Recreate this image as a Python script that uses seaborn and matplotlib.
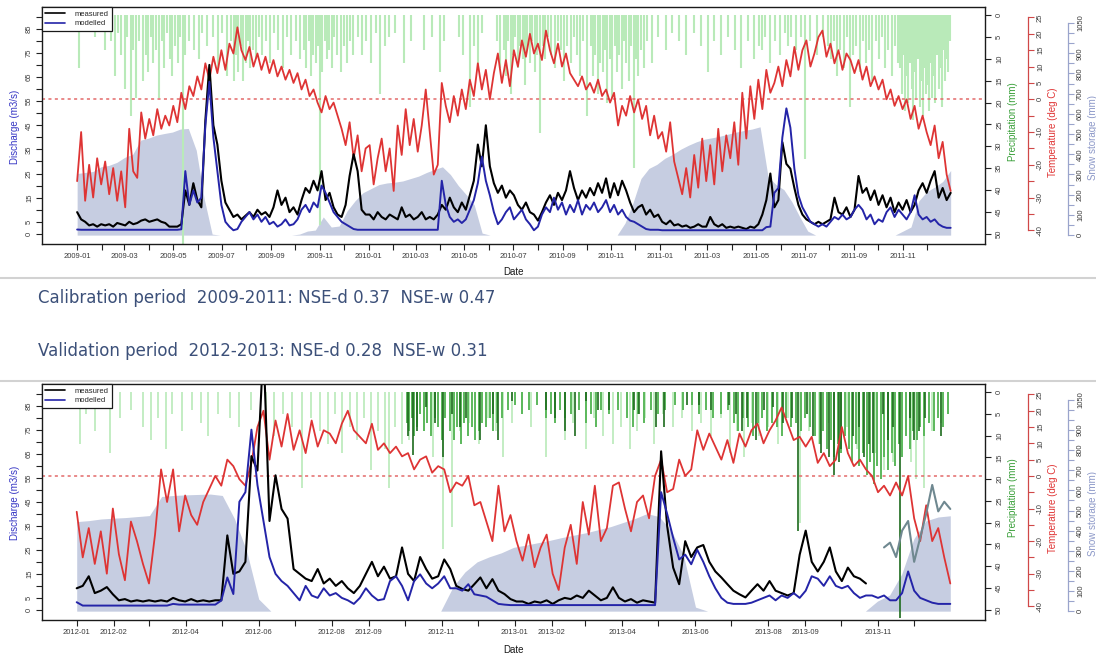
import matplotlib
matplotlib.use("Agg")
import matplotlib.pyplot as plt
from matplotlib.lines import Line2D
import numpy as np
import pandas as pd
import seaborn as sns

sns.set_theme(style="white")
plt.rcParams["font.family"] = ["Liberation Sans", "DejaVu Sans"]

# ---------------- colours ----------------
C_MEAS = "black"
C_MOD = "#2424a8"
C_TEMP = "#de3434"
C_SNOW = "#c6cde1"
C_P_LIGHT = "#b9eab9"
C_P_MID = "#5cb85c"
C_P_DARK = "#1d6b1d"
C_LATE = "#6f8890"
C_TICK = "#3a3a3a"

# =============== Calibration period 2009-2011 ===============
# temperature (deg C), one value every 5 days, grouped per year
temp_2009 = [-25, -10, -31, -20, -30, -18, -26,
             -19, -29, -21, -31, -22,
             -33, -9, -22, -24, -4, -12,
             -6, -11, -3, -9, -5, -8,
             -2, -7, 2, -3, 4, 1,
             7, 3, 11, 6, 13, 8,
             15, 9, 17, 14, 22, 15,
             12, 16, 10, 14, 9, 13,
             8, 12, 7, 10, 6, 9,
             5, 8, 3, 6, 1, 3,
             -1, -4, 1, -3, -1, -5,
             -9, -14, -7, -18, -11, -22, -15]
temp_2010 = [-14, -26, -18, -12, -22, -15, -28,
             -8, -17, -3, -14, -6,
             -16, -8, 3, -10, -23, -20,
             5, -2, -7, 1, -5, 3,
             -3, 6, 1, 11, 3, 9,
             0, 8, 14, 5, 12, 4,
             15, 10, 18, 13, 20, 14,
             17, 12, 21, 15, 11, 17,
             10, 14, 8, 6, 4, 7,
             3, 5, 2, 6, 1, 3,
             -1, 2, -8, -2, -5, 1,
             -4, 0, -6, -2, -11, -5, -12]
temp_2011 = [-10, -16, -7, -19, -24, -29, -21,
             -30, -17, -27, -12, -25,
             -14, -26, -9, -22, -11, -18,
             -7, -20, 2, -12, 4, -6,
             6, -3, 9, 2, 5, 10,
             4, 12, 7, 16, 9, 15,
             18, 10, 14, 19, 21, 13,
             17, 11, 15, 9, 14, 12,
             8, 12, 6, 10, 4, 7,
             3, 6, 0, 3, -2, 1,
             -3, 0, -6, -2, -9, -5,
             -10, -14, -8, -18, -13, -23, -28]

# measured discharge (m3/s), every 5 days
meas_2009 = [9, 6, 5, 3.5, 4, 3, 4,
             3.5, 4, 3, 4.5, 4,
             3.5, 5, 4, 4.5, 5.5, 6,
             5, 5.5, 6, 5, 4.5, 3,
             3, 3, 4, 18, 12, 21,
             14, 11, 47, 70, 45, 37,
             22, 13, 10, 7, 8, 6,
             7.5, 9, 7, 10, 8, 9,
             7, 11, 18, 12, 15, 9,
             11, 8, 14, 19, 17, 22,
             18, 26, 14, 17, 11, 8,
             7, 12, 24, 33, 26, 10, 8]
meas_2010 = [8, 6, 9, 7, 6, 8, 7,
             6, 11, 7, 8, 6,
             7, 9, 6, 7, 6, 8,
             12, 10, 15, 11, 9, 13,
             10, 16, 22, 37, 28, 45,
             28, 21, 17, 20, 15, 18,
             16, 12, 10, 13, 9, 8,
             5.5, 9, 13, 16, 12, 17,
             14, 18, 26, 19, 14, 18,
             15, 19, 16, 21, 17, 23,
             15, 21, 16, 22, 18, 13,
             9, 11, 12, 8, 10, 7, 8]
meas_2011 = [5, 4, 5.5, 3.5, 4, 3, 3.5,
             2.5, 3, 4, 3, 3,
             7, 4, 3, 4, 2.5, 3,
             2.5, 3, 2.5, 2, 3, 2.5,
             4, 8, 14, 25, 11, 14,
             38, 29, 27, 19, 12, 8,
             6, 5, 4, 5, 4, 5,
             6, 15, 9, 8, 11, 7,
             10, 24, 17, 19, 14, 18,
             12, 16, 11, 15, 9, 13,
             10, 14, 9, 12, 18, 21,
             17, 22, 26, 15, 19, 14, 17]

# modelled discharge (m3/s), every 5 days
mod_2009 = [1.8, 1.7, 1.7, 1.7, 1.7, 1.7, 1.7,
            1.7, 1.7, 1.7, 1.7, 1.7,
            1.7, 1.7, 1.7, 1.7, 1.7, 1.7,
            1.7, 1.7, 1.7, 1.7, 1.7, 1.7,
            1.7, 1.7, 1.9, 26, 12, 18,
            13, 15, 45, 63, 40, 26,
            12, 5, 3, 1.5, 2, 5,
            7, 9, 6, 8, 5, 7,
            4, 5, 3, 4, 6, 3.5,
            4, 6, 10, 12, 9, 13,
            11, 20, 17, 13, 9, 7,
            5, 4, 3, 2, 1.7, 1.7, 1.7]
mod_2010 = [1.7, 1.7, 1.7, 1.7, 1.7, 1.7, 1.7,
            1.7, 1.7, 1.7, 1.7, 1.7,
            1.7, 1.7, 1.7, 1.7, 1.7, 1.7,
            22, 12, 7, 5, 6, 4.5,
            6, 10, 14, 21, 32, 22,
            16, 9, 4, 6, 9, 11,
            6, 8, 10, 6, 4, 1.5,
            3, 8, 11, 9, 15, 10,
            13, 8, 12, 9, 14, 8,
            12, 10, 13, 9, 11, 14,
            9, 12, 8, 10, 7, 5.5,
            5, 4, 3, 2, 1.7, 1.7, 1.7]
mod_2011 = [1.5, 1.5, 1.5, 1.5, 1.5, 1.5, 1.5,
            1.5, 1.5, 1.5, 1.5, 1.5,
            1.5, 1.5, 1.5, 1.5, 1.5, 1.5,
            1.5, 1.5, 1.5, 1.5, 1.5, 1.5,
            1.5, 1.5, 2.8, 3, 17, 19,
            40, 52, 44, 27, 16, 11,
            8, 5, 4, 3, 4, 3,
            5, 7, 6, 8, 6, 7,
            10, 12, 10, 6, 8, 4,
            6, 5, 9, 11, 7, 10,
            8, 6, 9, 16, 8, 6,
            7, 5, 6, 4, 3, 2.5, 2.5]

# snow storage (mm), every 10 days
snow_2009 = [305, 310, 315, 338, 345, 360, 385, 400, 470, 480, 495, 503,
             510, 525, 528, 420, 180, 5, 0, 0, 0, 0, 0, 0, 0, 0, 0, 0,
             5, 20, 25, 90, 40, 45, 120, 170, 210]
snow_2010 = [230, 250, 258, 262, 268, 280, 292, 310, 325, 338, 300, 245,
             200, 150, 10, 0, 0, 0, 0, 0, 0, 0, 0, 0, 0, 0, 0, 0, 0, 0, 0, 0,
             60, 160, 280, 330, 350]
snow_2011 = [380, 400, 425, 445, 462, 475, 482, 490, 500, 510, 518, 525,
             536, 290, 250, 225, 165, 90, 20, 0, 0, 0, 0, 0, 0, 0, 0, 0, 0, 0,
             20, 40, 170, 215, 238, 265, 320]

# precipitation events (day since 2009-01-01, mm)
precip_cal = [
    (2, 12), (10, 3), (22, 5), (35, 8),
    (42, 6), (47, 14), (51, 4), (55, 9), (60, 17), (63, 5), (67, 23), (70, 8),
    (74, 19), (78, 6), (82, 15),
    (86, 9), (89, 13), (92, 5), (95, 11), (99, 8), (102, 19), (106, 6), (109, 12),
    (113, 4), (116, 10), (119, 14), (122, 7), (126, 11), (129, 5), (133, 54), (135, 9),
    (140, 6), (146, 8), (152, 10), (157, 4), (163, 7), (170, 5), (176, 12), (182, 4),
    (188, 14), (193, 6),
    (197, 15), (199, 9), (202, 13), (205, 7), (208, 15), (211, 11), (214, 6), (217, 12),
    (220, 8), (224, 10), (228, 5), (231, 9),
    (236, 6), (241, 11), (247, 4), (252, 8), (258, 12), (263, 5), (268, 9), (274, 6), (279, 10),
    (284, 8), (287, 12), (290, 6), (293, 14), (296, 9), (299, 11), (302, 7), (304, 48),
    (307, 13), (310, 6), (313, 10), (316, 8), (319, 12), (322, 5), (326, 9), (330, 13),
    (334, 7), (338, 11), (342, 6), (346, 9),
    (352, 5), (357, 9), (362, 6), (368, 11), (374, 4), (379, 18), (385, 7), (390, 5),
    (398, 4), (409, 11), (418, 6), (434, 8), (445, 5), (455, 13), (460, 6),
    (478, 5), (483, 9), (492, 21), (497, 7), (502, 12), (507, 4),
    (526, 6), (530, 12), (534, 8), (537, 14), (540, 6), (543, 18), (546, 9), (549, 5),
    (552, 12), (555, 7), (558, 10), (561, 16), (564, 8), (567, 11), (570, 6), (573, 13),
    (576, 9), (580, 27), (583, 7), (586, 10), (590, 5), (594, 9), (598, 12), (602, 6),
    (606, 8), (610, 15), (614, 7), (618, 11), (622, 5), (626, 9), (630, 14), (634, 6),
    (639, 23), (643, 7), (646, 14), (649, 9), (652, 18), (655, 11), (658, 13), (661, 8),
    (664, 20), (667, 10), (670, 19), (673, 7), (676, 13), (679, 9), (682, 17), (685, 6),
    (688, 11), (691, 15), (694, 7), (697, 35), (700, 10), (703, 14), (706, 8), (710, 12),
    (714, 6),
    (720, 11), (728, 5), (737, 8), (745, 4), (754, 6), (763, 9), (772, 4), (781, 7),
    (790, 13), (798, 6), (806, 9), (815, 5), (824, 8), (832, 12), (840, 6), (848, 10), (854, 7),
    (858, 8), (862, 5), (868, 11), (874, 6), (880, 9), (886, 4), (890, 7), (894, 5),
    (900, 8), (906, 5), (912, 33), (918, 6), (926, 9), (934, 5), (940, 7),
    (944, 10), (948, 6), (952, 14), (956, 8), (960, 12), (964, 5), (968, 21), (972, 9),
    (976, 7), (980, 13), (984, 6), (988, 11), (992, 8), (996, 15), (1000, 6), (1004, 10),
    (1008, 5), (1012, 12), (1016, 8), (1020, 14), (1024, 7), (1028, 11),
    (1031, 12), (1033, 18), (1035, 9), (1037, 22), (1039, 14), (1041, 20), (1043, 11),
    (1045, 17), (1047, 24), (1049, 13), (1051, 19), (1053, 10), (1055, 21), (1057, 15),
    (1059, 23), (1061, 12), (1063, 18), (1065, 16), (1067, 22), (1069, 11), (1071, 19),
    (1073, 14), (1075, 20), (1077, 9), (1079, 17), (1081, 12), (1083, 21), (1085, 8),
    (1087, 15), (1089, 10), (1091, 13), (1093, 6),
]

# =============== Validation period 2012-2013 ===============
temp_2012 = [-11, -25, -16, -27, -17, -30, -10, -24, -32, -14, -20, -27,
             -33, -18, 2, -8, 2, -17, -6, -12, -15, -8, -4, 0,
             -3, 5, 3, -1, -3, 4, 15, 20, 5, 17, 9, 19,
             8, 14, 7, 17, 9, 14, 13, 10, 16, 20, 14, 12,
             10, 16, 8, 10, 7, 9, 6, 7, 2, 5, 6, 1,
             3, 2, -5, -2, -3, 0, -9, -8, -14, -20, -3, -17, -12]
temp_2013 = [-20, -26, -18, -28, -22, -18, -30, -35, -22, -15, -27, -8,
             -18, -3, -20, -16, -3, -2, -10, -17, -8, -6, -13, 0,
             5, -5, -4, 5, 0, 2, 14, 8, 13, 9, 5, 11,
             4, 13, 9, 14, 16, 10, 14, 17, 21, 16, 11, 12,
             9, 12, 4, 7, 3, 5, 15, 7, 3, 5, 2, 0,
             -5, -3, -6, -2, -6, 0, -13, -20, -9, -20, -16, -25, -33]

meas_2012 = [9, 10, 14, 7, 8, 9.5, 6.5, 4, 4.5, 3.5, 4, 3.5,
             4, 3.5, 4, 3.5, 5, 4, 3.5, 4.5, 3.5, 4, 3.5, 4,
             4, 31, 15, 16, 20, 64, 58, 110, 37, 56, 42, 38,
             17, 15, 13, 12, 17, 11, 13, 10, 12, 9, 7, 10,
             15, 20, 14, 18, 13, 14, 26, 15, 12, 22, 17, 13,
             14, 21, 17, 10, 8.7, 8, 10.7, 13.5, 9, 12.8, 8, 6.6, 4.5]
meas_2013 = [3.5, 3.5, 2.5, 3.5, 3, 4, 2.5, 4, 5, 4.5, 6, 5,
             8, 6, 4, 5, 9.4, 5, 3.5, 4.5, 3, 4, 3.5, 3,
             66, 35, 17.6, 10.7, 28.6, 22, 26, 27, 20, 16, 13.5, 10.7,
             8, 6.5, 5.2, 8, 10.7, 8, 12, 8, 7, 6, 7, 23,
             33, 20, 16, 20, 26, 16, 12, 17.6, 14, 13, 11,
             np.nan, np.nan, np.nan, np.nan, np.nan, np.nan, np.nan,
             np.nan, np.nan, np.nan, np.nan, np.nan, np.nan, np.nan]
# measured discharge of the last weeks of 2013 (second gauge record)
meas_late_2013 = [26, 28, 22, 33, 37, 20, 30, 40, 52, 41, 45, 42]

mod_2012 = [3.2, 1.8, 1.8, 1.8, 1.8, 1.8, 1.8, 1.8, 1.8, 1.8, 1.8, 1.8,
            1.8, 1.8, 1.8, 1.8, 2.5, 2.2, 2.2, 2.2, 2.2, 2.2, 2.2, 2.2,
            3.9, 13.5, 6.6, 45, 49, 75, 52, 37, 22, 15, 12, 10,
            7, 4, 10, 6, 5, 9, 6, 7, 5, 4, 2.5, 5,
            9, 6, 4, 4.5, 12, 14, 10, 4, 12, 14.8, 11, 9,
            11, 14, 9, 9, 8, 10.7, 6.5, 6, 5.5, 4, 2.5, 2.2, 2]
mod_2013 = [2, 2, 2, 2, 2, 2, 2, 2, 2, 2, 2, 2,
            2, 2, 2, 2, 2, 2, 2, 2, 2, 2, 2, 2,
            49, 40, 30, 21, 23, 19, 25, 20, 14, 9, 5, 3,
            2.5, 2.5, 2.5, 3, 4, 5, 6, 4, 6, 5, 7, 5,
            8, 14, 13, 10, 14, 10, 9, 10, 7, 5, 6, 6,
            5, 6, 4, 4, 7, 16, 8, 5, 4, 3, 2.5, 2.5, 2.5]

snow_2012 = [445, 450, 458, 462, 465, 470, 475, 570, 575, 578, 580, 582,
             575, 460, 300, 60, 0, 0, 0, 0, 0, 0, 0, 0, 0, 0, 0, 0, 0, 0, 0,
             119, 195, 245, 270, 290, 317]
snow_2013 = [328, 340, 352, 366, 378, 390, 405, 420, 440, 460, 485, 470,
             400, 280, 20, 0, 0, 0, 0, 0, 0, 0, 0, 0, 0, 0, 0, 0, 0,
             50, 80, 185, 360, 449, 468, 474]

# precipitation events (day since 2012-01-01, mm): three gauges
precip_val_light = [
    (3, 12), (8, 5), (15, 9), (28, 14), (36, 6), (45, 4), (55, 8), (62, 11), (68, 6),
    (75, 13), (80, 5), (88, 9), (96, 4), (104, 7), (110, 10), (118, 5), (128, 6), (136, 8),
    (146, 4), (158, 7), (165, 10), (172, 5), (180, 8), (188, 22), (196, 6), (203, 9),
    (210, 12), (216, 5), (222, 14), (228, 8), (234, 11), (240, 6), (246, 18), (252, 9),
    (258, 13), (261, 22), (266, 8), (272, 12), (278, 11), (284, 7), (290, 9), (298, 15),
    (306, 36), (314, 31), (320, 9), (328, 7), (336, 12), (344, 6), (350, 9), (356, 15),
    (364, 7), (372, 5), (380, 8), (392, 15), (400, 6), (408, 11), (415, 7), (426, 13),
    (432, 6), (440, 10), (448, 12), (455, 8), (462, 13), (468, 9), (475, 6), (482, 12),
    (490, 5), (498, 8), (506, 6), (514, 9), (522, 7), (530, 10), (538, 6), (546, 14),
    (552, 9), (558, 15), (564, 7), (570, 10), (578, 8), (586, 12), (594, 6), (604, 30),
    (612, 9), (620, 12), (628, 7), (636, 11), (644, 8), (652, 13), (660, 9), (668, 14),
    (675, 18), (682, 16), (690, 11), (697, 16), (701, 20), (708, 22), (715, 9), (722, 7),
]
precip_val_mid = [
    (276, 7), (278, 9), (280, 6), (282, 10), (284, 8), (287, 5), (290, 9), (293, 7),
    (296, 10), (299, 6), (302, 8), (305, 11), (308, 6), (312, 9), (315, 11), (318, 8),
    (321, 12), (324, 7), (327, 10), (330, 8), (333, 11), (336, 9), (339, 7), (342, 8),
    (345, 6), (348, 9), (351, 7), (355, 6), (360, 4), (366, 3), (372, 5), (378, 4),
    (385, 3), (392, 6), (396, 5), (400, 7), (404, 4), (408, 6), (413, 5), (420, 4),
    (426, 7), (430, 5), (434, 8), (438, 4), (445, 5), (452, 4), (460, 6), (465, 8),
    (469, 5), (474, 7), (480, 4), (486, 5), (492, 4), (500, 3), (507, 4), (514, 3),
    (520, 5), (526, 4), (532, 6), (538, 5), (544, 4), (549, 7), (553, 9), (557, 6),
    (561, 8), (565, 10), (569, 7), (573, 6), (577, 9), (581, 7), (585, 8), (589, 10),
    (593, 6), (597, 8), (601, 7), (605, 9), (609, 6), (613, 8), (617, 10), (621, 12),
    (624, 9), (627, 13), (630, 11), (633, 15), (636, 12), (639, 14), (642, 10), (645, 13),
    (648, 16), (651, 12), (654, 17), (657, 14), (660, 19), (663, 16), (666, 21), (669, 17),
    (672, 20), (675, 15), (678, 18), (681, 14), (684, 17), (687, 12), (690, 15), (693, 10),
    (696, 13), (699, 9), (702, 11), (705, 8), (708, 10), (712, 7), (716, 9), (720, 6),
    (724, 8), (728, 5),
]
precip_val_dark = [
    (277, 10), (281, 14.5), (284, 9), (292, 3.5), (299, 7), (306, 15), (314, 5), (320, 8),
    (325, 6), (337, 11), (348, 5), (352, 11), (364, 2), (392, 4), (400, 6), (408, 9),
    (416, 10), (426, 2), (436, 4), (445, 4), (466, 4), (470, 5), (484, 8), (491, 8),
    (510, 3), (520, 3), (530, 4), (545, 3), (551, 5), (556, 9), (560, 6), (568, 11),
    (574, 4), (582, 3.5), (590, 7), (598, 6), (603, 32), (610, 5), (615, 10), (622, 14),
    (629, 15), (633, 19), (637, 16), (639, 13), (649, 10), (654, 8), (658, 15), (662, 12),
    (665, 14), (674, 5), (678, 11), (682, 8), (688, 52), (696, 6), (700, 11), (704, 9),
    (709, 6), (722, 10),
]

CAL_LABEL = "Calibration period  2009-2011: NSE-d 0.37  NSE-w 0.47"
VAL_LABEL = "Validation period  2012-2013: NSE-d 0.28  NSE-w 0.31"
VAL_TICK_LABELS = ["2012-01", "2012-02", "2012-04", "2012-06", "2012-08", "2012-09",
                   "2012-11", "2013-01", "2013-02", "2013-04", "2013-06", "2013-08",
                   "2013-09", "2013-11"]

# ---------------- figure ----------------
W, H = 1096, 658
fig = plt.figure(figsize=(W / 100, H / 100), dpi=100)
BOX_W = 985 - 42


def rect(left, top, right, bottom):
    return [left / W, 1 - bottom / H, (right - left) / W, (bottom - top) / H]


def events(pairs, start):
    days = [p[0] for p in pairs]
    mm = [p[1] for p in pairs]
    return pd.Timestamp(start) + pd.to_timedelta(days, unit="D"), np.array(mm, float)


def place_spine(ax, offset_px, bounds, colour):
    sp = ax.spines["right"]
    sp.set_visible(True)
    sp.set_position(("axes", 1 + offset_px / BOX_W))
    sp.set_bounds(*bounds)
    sp.set_color(colour)
    sp.set_linewidth(0.9)


def style_y(ax, ticks, labels, side, tick_color="#222222", pad=2.5):
    if side == "right":
        ax.yaxis.tick_right()
    else:
        ax.yaxis.tick_left()
    ax.set_yticks(ticks)
    ax.set_yticklabels(labels)
    ax.tick_params(axis="y", direction="out", length=4, width=0.8, pad=pad,
                   labelsize=5.5, labelcolor=C_TICK, color=tick_color,
                   labelrotation=90,
                   left=(side == "left"), right=(side == "right"),
                   labelleft=(side == "left"), labelright=(side == "right"))
    for t in ax.yaxis.get_major_ticks():
        for lab in (t.label1, t.label2):
            lab.set_va("center")


def draw_panel(top, bottom, start, end, temp, meas, mod, snow, precip_layers,
               tick_labels, pad_days, late=None):
    r = rect(42, top, 985, bottom)
    d5 = pd.date_range(start, end, periods=len(temp))
    d10 = pd.date_range(start, end, periods=len(snow))
    x0 = pd.Timestamp(start) - pd.Timedelta(days=pad_days[0])
    x1 = pd.Timestamp(end) + pd.Timedelta(days=pad_days[1])

    ax_s = fig.add_axes(r)
    ax_p = fig.add_axes(r)
    ax_t = fig.add_axes(r)
    ax_q = fig.add_axes(r)
    for a in (ax_s, ax_p, ax_t, ax_q):
        a.patch.set_visible(False)
        a.grid(False)
        for sp in a.spines.values():
            sp.set_visible(False)
    for a in (ax_s, ax_p, ax_t):
        a.xaxis.set_visible(False)

    # snow storage
    ax_s.fill_between(d10, 0, snow, color=C_SNOW, lw=0)
    ax_s.set_ylim(-44, 1129)
    ax_s.set_xlim(x0, x1)
    place_spine(ax_s, 83, (0, 1050), "#9aa4cc")
    style_y(ax_s, np.arange(0, 1051, 50),
            [str(v) if (v % 100 == 0 and v <= 900) or v == 1050 else ""
             for v in range(0, 1051, 50)], "right", tick_color="#9aa4cc")

    # precipitation, hanging from the top
    for pairs, pstart, colour, lw in precip_layers:
        when, mm = events(pairs, pstart)
        ax_p.vlines(when, 0, mm, colors=colour, lw=lw)
    ax_p.set_ylim(52.4, -1.9)
    ax_p.set_xlim(x0, x1)
    style_y(ax_p, np.arange(0, 51, 5), [str(v) for v in range(0, 51, 5)], "right", pad=4)

    # temperature
    ax_t.axhline(0, color="#e36a6a", ls=(0, (2, 2.2)), lw=1.1)
    sns.lineplot(x=d5, y=temp, ax=ax_t, color=C_TEMP, lw=1.3,
                 estimator=None, errorbar=None, sort=False, legend=False)
    ax_t.set_ylim(-44.2, 28.2)
    ax_t.set_xlim(x0, x1)
    ax_t.set_ylabel("")
    place_spine(ax_t, 43, (-40, 25), "#d04848")
    style_y(ax_t, np.arange(-40, 26, 5),
            [str(v) if (v >= 0 or v % 10 == 0) else "" for v in range(-40, 26, 5)],
            "right", tick_color="#d04848")

    # discharge
    sns.lineplot(x=d5, y=meas, ax=ax_q, color=C_MEAS, lw=1.5,
                 estimator=None, errorbar=None, sort=False, legend=False)
    if late is not None:
        sns.lineplot(x=d5[-len(late):], y=late, ax=ax_q, color=C_LATE, lw=1.5,
                     estimator=None, errorbar=None, sort=False, legend=False)
    sns.lineplot(x=d5, y=mod, ax=ax_q, color=C_MOD, lw=1.4,
                 estimator=None, errorbar=None, sort=False, legend=False)
    ax_q.set_ylim(-4.2, 94)
    ax_q.set_xlim(x0, x1)
    ax_q.set_xlabel("")
    ax_q.set_ylabel("")
    for sp in ax_q.spines.values():
        sp.set_visible(True)
        sp.set_color("#1a1a1a")
        sp.set_linewidth(1.0)
    qt = np.arange(0, 91, 5)
    style_y(ax_q, qt, [str(v) if (v == 0 or v % 10 == 5) else "" for v in qt], "left")

    months = pd.date_range(start, pd.Timestamp(end) - pd.Timedelta(days=30), freq="MS")
    ax_q.set_xticks(months)
    ax_q.set_xticklabels([m.strftime("%Y-%m") if m.strftime("%Y-%m") in tick_labels else ""
                          for m in months])
    ax_q.tick_params(axis="x", bottom=True, direction="out", length=4, width=0.8, pad=2.5,
                     labelsize=5.5, labelcolor=C_TICK, color="#222222")

    handles = [Line2D([], [], color=C_MEAS, lw=1.2), Line2D([], [], color=C_MOD, lw=1.2)]
    leg = ax_q.legend(handles, ["measured", "modelled"], loc="upper left",
                      bbox_to_anchor=(0, 1), borderaxespad=0, fontsize=5.5,
                      frameon=True, fancybox=False, edgecolor="#1a1a1a", framealpha=1,
                      handlelength=2.6, handletextpad=1.2, borderpad=0.45,
                      labelspacing=0.3)
    leg.get_frame().set_linewidth(0.9)


cal_ticks = [m.strftime("%Y-%m") for m in pd.date_range("2009-01-01", "2011-12-01", freq="MS")
             if m.month % 2 == 1]

draw_panel(7, 244, "2009-01-01", "2011-12-31",
           temp_2009 + temp_2010 + temp_2011,
           meas_2009 + meas_2010 + meas_2011,
           mod_2009 + mod_2010 + mod_2011,
           snow_2009 + snow_2010 + snow_2011,
           [(precip_cal, "2009-01-01", C_P_LIGHT, 1.5)],
           cal_ticks, (44, 43))

draw_panel(384, 620, "2012-01-01", "2013-12-31",
           temp_2012 + temp_2013,
           meas_2012 + meas_2013,
           mod_2012 + mod_2013,
           snow_2012 + snow_2013,
           [(precip_val_light, "2012-01-01", C_P_LIGHT, 1.2),
            (precip_val_mid, "2012-01-01", C_P_MID, 1.4),
            (precip_val_dark, "2012-01-01", C_P_DARK, 1.2)],
           VAL_TICK_LABELS, (29, 29), late=meas_late_2013)


# axis titles
def ftext(x, y, s, **kw):
    fig.text(x / W, 1 - y / H, s, ha="center", va="center", **kw)


for y_mid in (127, 503):
    ftext(15, y_mid, "Discharge (m3/s)", rotation=90, color="#3535c4", fontsize=7)
    ftext(1013, y_mid - 5, "Precipitation (mm)", rotation=90, color="#3aa03a", fontsize=7)
    ftext(1053, y_mid + 5, "Temperature (deg C)", rotation=90, color="#e03434", fontsize=7)
    ftext(1093, y_mid + 10, "Snow storage (mm)", rotation=90, color="#8c98c8", fontsize=7)
ftext(513, 272, "Date", fontsize=7, color="#1a1a1a")
ftext(513, 650, "Date", fontsize=7, color="#1a1a1a")

# period scores
fig.text(38 / W, 1 - 298 / H, CAL_LABEL, fontsize=12, color="#3c5079",
         family="DejaVu Sans", ha="left", va="center")
fig.text(38 / W, 1 - 351 / H, VAL_LABEL, fontsize=12, color="#3c5079",
         family="DejaVu Sans", ha="left", va="center")

# separators between the two charts
for yy in (278, 381):
    fig.add_artist(Line2D([0, 1], [1 - yy / H, 1 - yy / H], transform=fig.transFigure,
                          color="#d2d2d2", lw=1.5))

fig.savefig("out.png", dpi=100)
